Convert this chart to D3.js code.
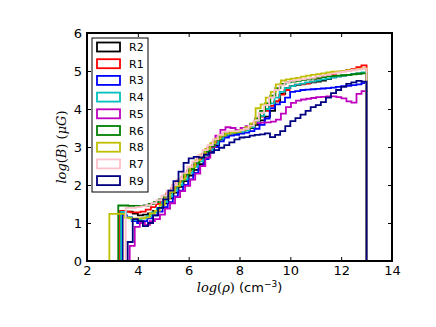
<!DOCTYPE html>
<html>
<head>
<meta charset="utf-8">
<script src="https://cdn.jsdelivr.net/npm/d3@7"></script>
<style>
  body { margin: 0; background: #fff; }
  svg { display: block; }
  .tick text { font-family: "DejaVu Sans", sans-serif; font-size: 13px; fill: #000; }
</style>
</head>
<body>
<div id="chart"></div>
<script>
const canvas = { w: 436, h: 327 };
const plot = { left: 87, right: 392, top: 33, bottom: 261 };

// regions in legend / drawing order
const regions = ["R2", "R1", "R3", "R4", "R5", "R6", "R8", "R7", "R9"];
const colors = ["#000000", "#ff0000", "#0000ff", "#00bfbf", "#bf00bf", "#008000", "#bfbf00", "#ffc0cb", "#000080"];
// lower edge of the first bin for each region, all histograms end at rhoMax
const starts = [3.40, 3.30, 3.37, 3.34, 3.68, 3.23, 2.88, 3.52, 3.60];
const rhoMax = 13;

const xTicks = [2, 4, 6, 8, 10, 12, 14];
const yTicks = [0, 1, 2, 3, 4, 5, 6];

// log(B) per density bin
const r2 = [1.30, 1.30, 1.25, 1.20, 1.22, 1.25, 1.32, 1.40, 1.52, 1.65, 1.80, 1.95, 2.10, 2.25, 2.40, 2.55,
  2.72, 2.88, 3.05, 3.20, 3.30, 3.35, 3.36, 3.40, 3.45, 3.50, 3.58, 3.70, 3.80, 3.95, 4.20, 4.40,
  4.55, 4.60, 4.63, 4.66, 4.68, 4.70, 4.72, 4.75, 4.79, 4.83, 4.86, 4.88, 4.90, 4.92, 4.93, 4.95];
const r1 = [1.32, 1.30, 1.28, 1.28, 1.30, 1.35, 1.42, 1.50, 1.62, 1.78, 1.92, 2.08, 2.22, 2.38, 2.52, 2.68,
  2.82, 2.98, 3.12, 3.25, 3.33, 3.36, 3.40, 3.42, 3.48, 3.55, 3.65, 3.80, 3.95, 4.08, 4.20, 4.38,
  4.50, 4.60, 4.64, 4.65, 4.67, 4.72, 4.80, 4.86, 4.90, 4.92, 4.97, 5.00, 5.02, 5.05, 5.10, 5.15];
const r3 = [1.20, 1.15, 1.05, 1.00, 1.05, 1.12, 1.20, 1.30, 1.42, 1.55, 1.70, 1.85, 2.00, 2.15, 2.32, 2.50,
  2.68, 2.85, 3.00, 3.15, 3.25, 3.30, 3.32, 3.35, 3.38, 3.42, 3.48, 3.58, 3.75, 4.02, 4.12, 4.18,
  4.30, 4.45, 4.47, 4.50, 4.51, 4.52, 4.53, 4.54, 4.55, 4.56, 4.58, 4.60, 4.61, 4.63, 4.65, 4.68];
const r4 = [1.29, 1.15, 1.08, 1.08, 1.12, 1.18, 1.28, 1.40, 1.55, 1.70, 1.85, 2.00, 2.15, 2.32, 2.48, 2.62,
  2.78, 2.92, 3.08, 3.22, 3.32, 3.36, 3.38, 3.40, 3.44, 3.52, 3.65, 3.82, 4.00, 4.15, 4.30, 4.45,
  4.55, 4.60, 4.64, 4.67, 4.70, 4.72, 4.75, 4.78, 4.80, 4.83, 4.86, 4.88, 4.90, 4.92, 4.94, 4.96];
const r5 = [0.40, 0.90, 1.00, 0.95, 1.05, 1.10, 1.22, 1.38, 1.52, 1.68, 1.84, 1.98, 2.14, 2.30, 2.50, 2.72,
  3.00, 3.30, 3.45, 3.52, 3.50, 3.45, 3.50, 3.55, 3.60, 3.63, 3.64, 3.65, 3.67, 3.72, 3.88, 4.05,
  4.16, 4.22, 4.25, 4.27, 4.29, 4.31, 4.32, 4.33, 4.33, 4.31, 4.28, 4.20, 4.17, 4.40, 4.47];
const r6 = [1.46, 1.46, 1.45, 1.45, 1.45, 1.46, 1.50, 1.55, 1.62, 1.72, 1.85, 1.98, 2.12, 2.28, 2.42, 2.58,
  2.72, 2.88, 3.02, 3.18, 3.30, 3.38, 3.40, 3.42, 3.45, 3.50, 3.60, 3.75, 3.95, 4.15, 4.35, 4.55,
  4.66, 4.70, 4.72, 4.74, 4.76, 4.78, 4.80, 4.82, 4.84, 4.86, 4.87, 4.88, 4.89, 4.90, 4.91, 4.93, 4.94];
const r8 = [1.24, 1.24, 1.24, 1.14, 1.12, 1.12, 1.12, 1.15, 1.25, 1.32, 1.48, 1.65, 1.82, 1.98, 2.15, 2.32,
  2.48, 2.65, 2.80, 2.95, 3.10, 3.22, 3.30, 3.35, 3.38, 3.40, 3.45, 3.52, 3.62, 4.02, 4.12, 4.30,
  4.45, 4.65, 4.75, 4.78, 4.80, 4.82, 4.85, 4.88, 4.90, 4.92, 4.94, 4.96, 4.98, 4.99, 5.00, 5.02,
  5.03, 5.05, 5.07];
const r7 = [1.40, 1.40, 1.42, 1.44, 1.47, 1.52, 1.60, 1.72, 1.85, 2.00, 2.15, 2.32, 2.48, 2.62, 2.78, 2.92,
  3.05, 3.20, 3.32, 3.40, 3.42, 3.42, 3.44, 3.48, 3.56, 3.70, 3.90, 4.10, 4.30, 4.50, 4.62, 4.70,
  4.74, 4.76, 4.78, 4.80, 4.82, 4.85, 4.88, 4.90, 4.93, 4.96, 4.98, 5.00, 5.02, 5.04, 5.06];
const r9 = [0.50, 1.10, 1.05, 0.92, 1.00, 1.20, 1.40, 1.62, 1.85, 2.10, 2.35, 2.58, 2.70, 2.74, 2.72, 2.80,
  2.85, 2.92, 2.98, 3.05, 3.12, 3.20, 3.25, 3.26, 3.30, 3.32, 3.33, 3.36, 3.26, 3.32, 3.42, 3.55,
  3.68, 3.76, 3.85, 3.95, 4.05, 4.10, 4.18, 4.30, 4.42, 4.50, 4.58, 4.66, 4.70, 4.74, 4.72];

const seriesValues = [r2, r1, r3, r4, r5, r6, r8, r7, r9];

const svg = d3.select("#chart")
  .append("svg")
  .attr("width", canvas.w)
  .attr("height", canvas.h)
  .attr("viewBox", `0 0 ${canvas.w} ${canvas.h}`);

const x = d3.scaleLinear().domain([2, 14]).range([plot.left, plot.right]);
const y = d3.scaleLinear().domain([0, 6]).range([plot.bottom, plot.top]);

svg.append("defs").append("clipPath").attr("id", "clip")
  .append("rect")
  .attr("x", plot.left).attr("y", plot.top)
  .attr("width", plot.right - plot.left).attr("height", plot.bottom - plot.top);

// step outline of one histogram
function stepPoints(values, start) {
  const w = (rhoMax - start) / values.length;
  const pts = [[start, 0]];
  values.forEach((v, i) => {
    pts.push([start + i * w, v]);
    pts.push([start + (i + 1) * w, v]);
  });
  pts.push([rhoMax, 0]);
  return pts;
}

const line = d3.line().x(d => x(d[0])).y(d => y(d[1]));

const g = svg.append("g").attr("clip-path", "url(#clip)");

g.selectAll("path")
  .data(regions)
  .enter()
  .append("path")
  .attr("fill", "none")
  .attr("stroke", (d, i) => colors[i])
  .attr("stroke-width", 1.8)
  .attr("stroke-linejoin", "miter")
  .attr("d", (d, i) => line(stepPoints(seriesValues[i], starts[i])));

// axes, ticks pointing inwards on all four sides
const tickLen = 4;
svg.append("g")
  .attr("transform", `translate(0,${plot.bottom})`)
  .call(d3.axisBottom(x).tickValues(xTicks).tickSize(-tickLen).tickPadding(5).tickFormat(d3.format("d")))
  .call(a => a.select(".domain").remove());
svg.append("g")
  .attr("transform", `translate(0,${plot.top})`)
  .call(d3.axisTop(x).tickValues(xTicks).tickSize(-tickLen).tickFormat(""))
  .call(a => a.select(".domain").remove());
svg.append("g")
  .attr("transform", `translate(${plot.left},0)`)
  .call(d3.axisLeft(y).tickValues(yTicks).tickSize(-tickLen).tickPadding(5).tickFormat(d3.format("d")))
  .call(a => a.select(".domain").remove());
svg.append("g")
  .attr("transform", `translate(${plot.right},0)`)
  .call(d3.axisRight(y).tickValues(yTicks).tickSize(-tickLen).tickFormat(""))
  .call(a => a.select(".domain").remove());

svg.selectAll(".tick line").attr("stroke", "#000").attr("stroke-width", 1);

svg.append("rect")
  .attr("x", plot.left).attr("y", plot.top)
  .attr("width", plot.right - plot.left).attr("height", plot.bottom - plot.top)
  .attr("fill", "none")
  .attr("stroke", "#000")
  .attr("stroke-width", 2);

// axis labels
const xLabel = svg.append("text")
  .attr("x", (plot.left + plot.right) / 2)
  .attr("y", 292)
  .attr("text-anchor", "middle")
  .attr("font-size", 13)
  .attr("font-family", "DejaVu Sans, sans-serif");
xLabel.append("tspan").attr("font-family", "DejaVu Serif, serif").attr("font-style", "italic").text("log");
xLabel.append("tspan").attr("font-family", "DejaVu Serif, serif").text("(");
xLabel.append("tspan").attr("font-family", "DejaVu Serif, serif").attr("font-style", "italic").text("ρ");
xLabel.append("tspan").attr("font-family", "DejaVu Serif, serif").text(")");
xLabel.append("tspan").text(" (cm");
xLabel.append("tspan").attr("font-size", 9).attr("dy", -5).text("−3");
xLabel.append("tspan").attr("dy", 5).text(")");

const yLabel = svg.append("text")
  .attr("transform", `translate(66,${(plot.top + plot.bottom) / 2}) rotate(-90)`)
  .attr("text-anchor", "middle")
  .attr("font-size", 13)
  .attr("font-family", "DejaVu Serif, serif");
yLabel.append("tspan").attr("font-style", "italic").text("log");
yLabel.append("tspan").text("(");
yLabel.append("tspan").attr("font-style", "italic").text("B");
yLabel.append("tspan").text(") (");
yLabel.append("tspan").attr("font-style", "italic").text("μG");
yLabel.append("tspan").text(")");

// legend
const legend = svg.append("g").attr("transform", "translate(92,38)");
legend.append("rect")
  .attr("width", 56).attr("height", 154)
  .attr("fill", "#fff")
  .attr("stroke", "#000")
  .attr("stroke-width", 1);

const items = legend.selectAll("g.item")
  .data(regions)
  .enter()
  .append("g")
  .attr("class", "item")
  .attr("transform", (d, i) => `translate(0,${9 + i * 16.7})`);

items.append("rect")
  .attr("x", 5).attr("y", -4.5)
  .attr("width", 23).attr("height", 9)
  .attr("fill", "none")
  .attr("stroke", (d, i) => colors[i])
  .attr("stroke-width", 1.8);

items.append("text")
  .attr("x", 37).attr("y", 4)
  .attr("font-family", "DejaVu Sans, sans-serif")
  .attr("font-size", 11)
  .text(d => d);
</script>
</body>
</html>
